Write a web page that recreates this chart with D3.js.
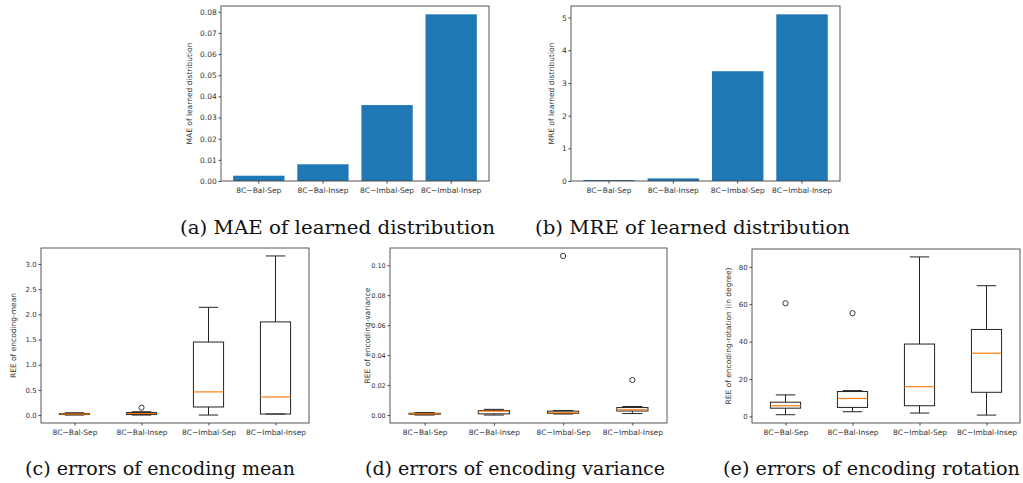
<!DOCTYPE html>
<html>
<head>
<meta charset="utf-8">
<script src="https://cdn.jsdelivr.net/npm/d3@7"></script>
<style>
  html, body { margin: 0; padding: 0; background: #fff; }
  svg { display: block; }
  .tick text { font-family: "DejaVu Sans", sans-serif; fill: #333; }
  .tick line { stroke: #444; }
  .ylabel { font-family: "DejaVu Sans", sans-serif; font-size: 7.5px; fill: #333; }
</style>
</head>
<body>
<script>
// Experiment groups shared by every panel
const categories = ["8C\u2212Bal-Sep", "8C\u2212Bal-Insep", "8C\u2212Imbal-Sep", "8C\u2212Imbal-Insep"];

// (a) mean absolute error and (b) mean relative error of the learned distribution
const maeValues = [0.0025, 0.0079, 0.0359, 0.0788];
const mreValues = [0.03, 0.08, 3.36, 5.10];
const maeTicks = [0, 0.01, 0.02, 0.03, 0.04, 0.05, 0.06, 0.07, 0.08];
const mreTicks = [0, 1, 2, 3, 4, 5];

// (c) errors of encoding mean: whisker ends, quartiles, medians, fliers
const meanWhiskerLo = [0.00, 0.00, 0.00, 0.02];
const meanQ1        = [0.01, 0.01, 0.16, 0.02];
const meanMedian    = [0.02, 0.03, 0.46, 0.36];
const meanQ3        = [0.03, 0.05, 1.45, 1.85];
const meanWhiskerHi = [0.045, 0.065, 2.14, 3.16];
const meanOutliers  = [[], [0.146], [], []];
const meanTicks = [0, 0.5, 1.0, 1.5, 2.0, 2.5, 3.0];

// (d) errors of encoding variance
const varWhiskerLo = [0.0000, 0.0000, 0.0007, 0.0010];
const varQ1        = [0.0005, 0.0008, 0.0011, 0.0027];
const varMedian    = [0.0008, 0.0026, 0.0015, 0.0035];
const varQ3        = [0.0012, 0.0030, 0.0026, 0.0050];
const varWhiskerHi = [0.0016, 0.0038, 0.0030, 0.0057];
const varOutliers  = [[], [], [0.1062], [0.0234]];
const varTicks = [0, 0.02, 0.04, 0.06, 0.08, 0.10];

// (e) errors of encoding rotation, in degrees
const rotWhiskerLo = [0.9, 2.5, 1.8, 0.7];
const rotQ1        = [4.4, 4.8, 5.7, 12.9];
const rotMedian    = [5.7, 9.6, 15.9, 33.8];
const rotQ3        = [7.6, 13.3, 38.7, 46.5];
const rotWhiskerHi = [11.5, 13.8, 85.3, 69.9];
const rotOutliers  = [[60.5], [55.2], [], []];
const rotTicks = [0, 20, 40, 60, 80];

const W = 1023, H = 483;
const svg = d3.select("body").append("svg").attr("width", W).attr("height", H);

const BAR_COLOR = "#1f77b4";
const MEDIAN_COLOR = "#ff7f0e";
const FRAME_COLOR = "#444";

function frame(g, p) {
  g.append("rect")
    .attr("x", p.x0).attr("y", p.y0)
    .attr("width", p.x1 - p.x0).attr("height", p.y1 - p.y0)
    .attr("fill", "none").attr("stroke", FRAME_COLOR).attr("stroke-width", 0.9);
}

function axes(g, p, x, y, ticks, fmt, label) {
  const ya = d3.axisLeft(y).tickValues(ticks).tickFormat(d3.format(fmt))
    .tickSize(2.5).tickPadding(1.8).tickSizeOuter(0);
  g.append("g").attr("transform", `translate(${p.x0},0)`).call(ya)
    .attr("font-family", null).attr("font-size", null)
    .call(s => s.select(".domain").remove())
    .call(s => s.selectAll("text").style("font-size", p.yFont + "px"));

  const xa = d3.axisBottom(x).tickSize(2.5).tickPadding(4.5).tickSizeOuter(0);
  g.append("g").attr("transform", `translate(0,${p.y1})`).call(xa)
    .attr("font-family", null).attr("font-size", null)
    .call(s => s.select(".domain").remove())
    .call(s => s.selectAll("text").style("font-size", "7.5px"));

  g.append("text").attr("class", "ylabel")
    .attr("transform", `translate(${p.ylabelX},${(p.y0 + p.y1) / 2}) rotate(-90)`)
    .attr("text-anchor", "middle").attr("dominant-baseline", "middle")
    .text(label);
}

function barPanel(p, values, ticks, fmt, label) {
  const g = svg.append("g");
  const x = d3.scaleBand().domain(categories).range([p.x0, p.x1])
    .paddingInner(0.2).paddingOuter(0.19);
  const y = d3.scaleLinear().domain([0, d3.max(values) * 1.05]).range([p.y1, p.y0]);

  g.selectAll("rect.bar").data(values).join("rect")
    .attr("class", "bar")
    .attr("x", (d, i) => x(categories[i]))
    .attr("width", x.bandwidth())
    .attr("y", d => y(d))
    .attr("height", d => y(0) - y(d))
    .attr("fill", BAR_COLOR);

  axes(g, p, x, y, ticks, fmt, label);
  frame(g, p);
}

function boxPanel(p, lo, q1, med, q3, hi, fliers, ticks, fmt, label) {
  const g = svg.append("g");
  const x = d3.scalePoint().domain(categories).range([p.x0, p.x1]).padding(0.5);
  const step = x.step();
  const allVals = lo.concat(hi, fliers.flat());
  const mn = d3.min(allVals), mx = d3.max(allVals), pad = (mx - mn) * 0.05;
  const y = d3.scaleLinear().domain([mn - pad, mx + pad]).range([p.y1, p.y0]);

  const boxW = 0.45 * step, capW = 0.29 * step;
  const rows = categories.map((c, i) => ({
    c, lo: lo[i], q1: q1[i], med: med[i], q3: q3[i], hi: hi[i], fl: fliers[i]
  }));

  const b = g.selectAll("g.box").data(rows).join("g").attr("class", "box");
  const stroke = "#222", sw = 1;

  // whiskers
  b.append("line").attr("x1", d => x(d.c)).attr("x2", d => x(d.c))
    .attr("y1", d => y(d.q1)).attr("y2", d => y(d.lo))
    .attr("stroke", stroke).attr("stroke-width", sw);
  b.append("line").attr("x1", d => x(d.c)).attr("x2", d => x(d.c))
    .attr("y1", d => y(d.q3)).attr("y2", d => y(d.hi))
    .attr("stroke", stroke).attr("stroke-width", sw);
  // caps
  b.append("line").attr("x1", d => x(d.c) - capW / 2).attr("x2", d => x(d.c) + capW / 2)
    .attr("y1", d => y(d.lo)).attr("y2", d => y(d.lo))
    .attr("stroke", stroke).attr("stroke-width", sw);
  b.append("line").attr("x1", d => x(d.c) - capW / 2).attr("x2", d => x(d.c) + capW / 2)
    .attr("y1", d => y(d.hi)).attr("y2", d => y(d.hi))
    .attr("stroke", stroke).attr("stroke-width", sw);
  // interquartile box
  b.append("rect").attr("x", d => x(d.c) - boxW / 2).attr("width", boxW)
    .attr("y", d => y(d.q3)).attr("height", d => Math.max(0, y(d.q1) - y(d.q3)))
    .attr("fill", "none").attr("stroke", stroke).attr("stroke-width", sw);
  // median
  b.append("line").attr("x1", d => x(d.c) - boxW / 2).attr("x2", d => x(d.c) + boxW / 2)
    .attr("y1", d => y(d.med)).attr("y2", d => y(d.med))
    .attr("stroke", MEDIAN_COLOR).attr("stroke-width", 1.2);
  // fliers
  b.selectAll("circle").data(d => d.fl.map(v => ({ c: d.c, v }))).join("circle")
    .attr("cx", d => x(d.c)).attr("cy", d => y(d.v)).attr("r", 2.6)
    .attr("fill", "none").attr("stroke", stroke).attr("stroke-width", 0.9);

  axes(g, p, x, y, ticks, fmt, label);
  frame(g, p);
}

barPanel({ x0: 221, x1: 489, y0: 6, y1: 181, ylabelX: 190, yFont: 7.5 },
  maeValues, maeTicks, ".2f", "MAE of learned distribution");
barPanel({ x0: 571, x1: 840, y0: 6, y1: 181, ylabelX: 552, yFont: 7.5 },
  mreValues, mreTicks, "d", "MRE of learned distribution");

boxPanel({ x0: 41, x1: 309, y0: 248, y1: 423, ylabelX: 13.5, yFont: 7 },
  meanWhiskerLo, meanQ1, meanMedian, meanQ3, meanWhiskerHi, meanOutliers,
  meanTicks, ".1f", "REE of encoding-mean");
boxPanel({ x0: 390, x1: 667, y0: 248, y1: 423, ylabelX: 368, yFont: 6.5 },
  varWhiskerLo, varQ1, varMedian, varQ3, varWhiskerHi, varOutliers,
  varTicks, ".2f", "REE of encoding-variance");
boxPanel({ x0: 752, x1: 1020, y0: 249, y1: 423, ylabelX: 728.5, yFont: 7 },
  rotWhiskerLo, rotQ1, rotMedian, rotQ3, rotWhiskerHi, rotOutliers,
  rotTicks, "d", "REE of encoding-rotation (in degree)");

// Sub-figure captions
const captions = [
  { text: "(a) MAE of learned distribution", cx: 337.5, y: 234, w: 315 },
  { text: "(b) MRE of learned distribution", cx: 692.5, y: 234, w: 315 },
  { text: "(c) errors of encoding mean", cx: 160, y: 475, w: 270 },
  { text: "(d) errors of encoding variance", cx: 515, y: 475, w: 300 },
  { text: "(e) errors of encoding rotation", cx: 871.5, y: 475, w: 297 }
];
svg.selectAll("text.caption").data(captions).join("text")
  .attr("class", "caption")
  .attr("x", d => d.cx - d.w / 2).attr("y", d => d.y)
  .style("font-family", "'DejaVu Serif', serif")
  .style("font-size", "19px")
  .attr("fill", "#111")
  .attr("textLength", d => d.w).attr("lengthAdjust", "spacingAndGlyphs")
  .text(d => d.text);
</script>
</body>
</html>
